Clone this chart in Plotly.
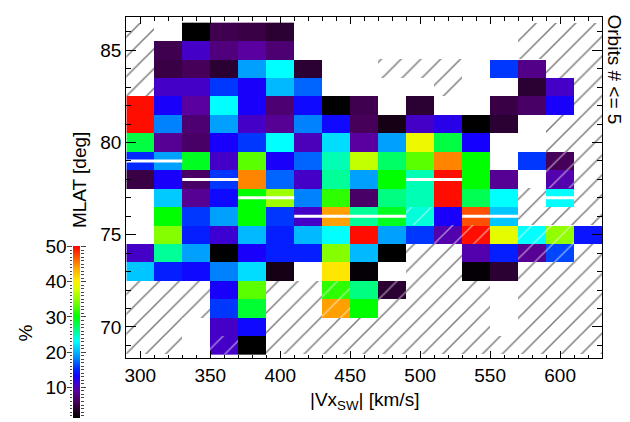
import plotly.graph_objects as go

N = None
# bin centres
vx_centers = [300, 320, 340, 360, 380, 400, 420, 440, 460, 480, 500, 520, 540, 560, 580, 600, 620]
mlat_centers = [86, 85, 84, 83, 82, 81, 80, 79, 78, 77, 76, 75, 74, 73, 72, 71, 70, 69]

# percentage per cell (rows follow mlat_centers, columns follow vx_centers)
pct = [
    [N, N, 1, 5.5, 5, 4, N, N, N, N, N, N, N, N, N, N, N],
    [N, 5.5, 10.5, 7.5, 9, 7, N, N, N, N, N, N, N, N, N, N, N],
    [N, 5, 6, 4, 19, 23, 4, N, N, N, N, N, N, 15.5, 8, N, N],
    [N, 10.5, 10.5, 15.5, 12.8, 20, 17, N, N, N, N, N, N, N, 4, 10.5, N],
    [49.5, 12.8, 9, 23, 12.8, 7, 13.5, 1, 5.5, N, 4, N, N, 5, 6.5, 12.8, N],
    [49.5, 18, 7, 19, 10.5, 8.5, 18, 13.5, 6, 2.5, 10.5, 12, 1, 4, N, N, N],
    [28, 8.5, 6.5, 12.8, 15.5, 23, 10, 21.5, 9, 19, 39, 28, 13, N, N, N, N],
    [15, 19, 29, 10.5, 33, 12.8, 17, 25, 37, 27, 33, 45, 30, N, 15.5, 6, N],
    [5, 12.8, 6.5, 15.5, 45, 17, 10.5, 25.7, 19, 30, 25, 49.5, 30, 8.5, N, 9.5, N],
    [N, 20.7, 8.5, 13.5, 30, 35.5, 18, 31.5, 6.5, 26.3, 25, 49.5, 27.5, 23, N, 23, N],
    [N, 30, 15.5, 19, 30, 15.5, 10.5, 44, 25.7, 29, 24, 12.8, 47, 20.5, N, N, N],
    [N, 34.5, 14.5, 11, 20, 14.5, 20, 23, 49.5, 19, 15.5, 9.5, 49.5, 38.5, 23, 35, 14],
    [10.5, 25.7, 19, 1, 12.8, 14.5, 14.5, 34.5, 20, 0.5, N, N, 9.5, 14.5, 8.5, 16, N],
    [20.5, 14.5, 13.5, 18, 21.5, 2.5, N, 40.5, 1.5, N, N, N, 1.5, 4, N, N, N],
    [N, N, N, 12.8, 33, N, N, 31.5, 26.3, 4, N, N, N, N, N, N, N],
    [N, N, N, 15.5, 28.5, N, N, 44, 30, N, N, N, N, N, N, N, N],
    [N, N, N, 10.5, 13.5, N, N, N, N, N, N, N, N, N, N, N, N],
    [N, N, N, 10.5, 0.5, N, N, N, N, N, N, N, N, N, N, N, N],
]

# 1 = cell with orbits # <= 5 (hatched)
few_orbits = [
    [1, 0, 0, 0, 0, 0, 0, 0, 0, 0, 0, 0, 0, 0, 1, 1, 1],
    [1, 0, 0, 0, 0, 0, 0, 0, 0, 0, 0, 0, 0, 0, 1, 1, 1],
    [1, 0, 0, 0, 0, 0, 0, 0, 0, 1, 1, 1, 0, 0, 0, 1, 1],
    [1, 0, 0, 0, 0, 0, 0, 0, 0, 0, 0, 1, 0, 0, 0, 0, 1],
    [0, 0, 0, 0, 0, 0, 0, 0, 0, 0, 0, 0, 0, 0, 0, 0, 1],
    [0, 0, 0, 0, 0, 0, 0, 0, 0, 0, 0, 0, 0, 0, 0, 1, 1],
    [0, 0, 0, 0, 0, 0, 0, 0, 0, 0, 0, 0, 0, 0, 0, 1, 1],
    [0, 0, 0, 0, 0, 0, 0, 0, 0, 0, 0, 0, 0, 0, 0, 1, 1],
    [0, 0, 0, 0, 0, 0, 0, 0, 0, 0, 0, 0, 0, 0, 0, 1, 1],
    [0, 0, 0, 0, 0, 0, 0, 0, 0, 0, 0, 0, 0, 0, 1, 0, 1],
    [0, 0, 0, 0, 0, 0, 0, 0, 0, 0, 1, 0, 0, 0, 1, 1, 1],
    [0, 0, 0, 0, 0, 0, 0, 0, 0, 0, 0, 1, 1, 0, 1, 1, 0],
    [0, 0, 0, 0, 0, 0, 0, 0, 0, 0, 1, 1, 0, 0, 1, 1, 1],
    [0, 0, 0, 0, 0, 0, 0, 0, 0, 0, 1, 1, 0, 0, 1, 1, 1],
    [1, 1, 1, 0, 0, 1, 1, 1, 0, 1, 1, 1, 1, 0, 1, 1, 1],
    [1, 1, 1, 0, 0, 1, 1, 1, 0, 1, 1, 1, 1, 0, 1, 1, 1],
    [1, 1, 0, 0, 0, 1, 1, 1, 1, 1, 1, 1, 1, 0, 1, 1, 1],
    [1, 1, 0, 1, 0, 1, 1, 1, 1, 1, 1, 1, 1, 1, 1, 1, 1],
]

# white separator segments (MLAT, Vx start, Vx end)
gap_mlat = [79, 78, 77, 76, 78, 76, 77]
gap_vx0 = [290, 330, 370, 410, 490, 530, 590]
gap_vx1 = [330, 370, 410, 490, 530, 570, 610]

cbar_ticks = [10, 20, 30, 40, 50]

ZMIN, ZMAX = 1.2, 50.0
stops = [
    (1.2, (0, 0, 0)), (3, (30, 0, 30)), (6, (70, 0, 90)), (9, (90, 0, 160)),
    (11, (60, 0, 210)), (13, (20, 0, 255)), (15, (0, 40, 255)), (17, (0, 100, 255)),
    (19, (0, 160, 255)), (21, (0, 210, 255)), (23, (0, 255, 255)), (25, (0, 255, 180)),
    (27, (0, 255, 100)), (30, (0, 255, 0)), (34, (120, 255, 0)), (38, (220, 255, 0)),
    (40, (255, 240, 0)), (44, (255, 160, 0)), (47, (255, 80, 0)), (50, (255, 0, 0)),
]
colorscale = [[(v - ZMIN) / (ZMAX - ZMIN), "rgb(%d,%d,%d)" % c] for v, c in stops]

W, H = 630, 422
# pixel geometry of the frames
PX0, PX1, PY0, PY1 = 124.7, 602.0, 7.3, 356.7
CX0, CX1, CY0, CY1 = 71.7, 78.3, 242.3, 418.3

FONT = "Liberation Sans, Arial, Helvetica, sans-serif"

fig = go.Figure()

fig.add_trace(go.Heatmap(
    x=vx_centers, y=mlat_centers, z=pct,
    zmin=ZMIN, zmax=ZMAX, colorscale=colorscale,
    hoverongaps=False,
    colorbar=dict(
        x=CX0 / W, xanchor="left", y=1 - CY1 / H, yanchor="bottom",
        len=(CY1 - CY0) / H, lenmode="fraction",
        thickness=CX1 - CX0, thicknessmode="pixels",
        xpad=0, ypad=0, outlinewidth=0, ticks="", showticklabels=False,
    ),
))

# hatched cells
hx_d, hb_d, hx_e, hb_e = [], [], [], []
for i, lat in enumerate(mlat_centers):
    for j, vx in enumerate(vx_centers):
        if few_orbits[i][j]:
            if pct[i][j] is None:
                hx_e.append(vx); hb_e.append(lat - 0.5)
            else:
                hx_d.append(vx); hb_d.append(lat - 0.5)

for hx, hb, col in [(hx_e, hb_e, "black"), (hx_d, hb_d, "white")]:
    fig.add_trace(go.Bar(
        x=hx, y=[1] * len(hx), base=hb, width=20,
        marker=dict(color="rgba(0,0,0,0)", line=dict(width=0),
                    pattern=dict(shape="/", size=14, solidity=0.11,
                                 fgcolor=col, fillmode="overlay")),
        hoverinfo="skip", showlegend=False,
    ))

gx, gy = [], []
for lat, a, b in zip(gap_mlat, gap_vx0, gap_vx1):
    gx += [a, b, None]
    gy += [lat, lat, None]
fig.add_trace(go.Scatter(x=gx, y=gy, mode="lines",
                         line=dict(color="white", width=3),
                         hoverinfo="skip", showlegend=False))

# placeholder so that the colour-bar axis (x2/y2) is drawn
fig.add_trace(go.Scatter(x=[None], y=[None], xaxis="x2", yaxis="y2",
                         mode="markers", hoverinfo="skip", showlegend=False))

fig.update_layout(
    width=W, height=H, margin=dict(l=0, r=0, t=0, b=0),
    paper_bgcolor="white", plot_bgcolor="white",
    barmode="overlay", bargap=0, showlegend=False,
    font=dict(family=FONT, size=19, color="black"),
    xaxis=dict(
        domain=[PX0 / W, PX1 / W], range=[290, 630], anchor="y",
        tickvals=[300, 350, 400, 450, 500, 550, 600],
        ticks="inside", ticklen=7, tickwidth=1, tickcolor="black",
        ticklabelstandoff=0,
        minor=dict(dtick=10, tick0=0, ticks="inside", ticklen=3.5, tickcolor="black"),
        showline=True, linecolor="black", linewidth=1.2, mirror="allticks",
        showgrid=False, zeroline=False,
    ),
    yaxis=dict(
        domain=[1 - PY1 / H, 1 - PY0 / H], range=[68.3, 86.8], anchor="x",
        tickvals=[70, 75, 80, 85],
        ticks="inside", ticklen=10, tickwidth=1, tickcolor="black",
        minor=dict(dtick=1, tick0=0, ticks="inside", ticklen=5, tickcolor="black"),
        showline=True, linecolor="black", linewidth=1.2, mirror="allticks",
        showgrid=False, zeroline=False,
    ),
    xaxis2=dict(domain=[CX0 / W, CX1 / W], range=[0, 1], anchor="y2",
                visible=False, fixedrange=True),
    yaxis2=dict(
        domain=[1 - CY1 / H, 1 - CY0 / H], range=[ZMIN, ZMAX], anchor="x2",
        tickvals=cbar_ticks, ticks="outside", ticklen=5, tickwidth=1, tickcolor="#444",
        ticklabelstandoff=-3,
        minor=dict(dtick=1, tick0=0, ticks="outside", ticklen=2.5, tickcolor="#444"),
        showline=False, mirror="allticks", showgrid=False, zeroline=False,
        fixedrange=True,
    ),
    annotations=[
        dict(text="|Vx<sub>SW</sub>| [km/s]", x=(PX0 + PX1) / 2 / W, y=1 - 400 / H,
             xref="paper", yref="paper", xanchor="center", yanchor="middle",
             showarrow=False, font=dict(family=FONT, size=19)),
        dict(text="MLAT [deg]", x=78 / W, y=1 - 174.5 / H,
             xref="paper", yref="paper", xanchor="center", yanchor="middle",
             showarrow=False, textangle=-90, font=dict(family=FONT, size=19)),
        dict(text="%", x=23.5 / W, y=1 - 331 / H,
             xref="paper", yref="paper", xanchor="center", yanchor="middle",
             showarrow=False, textangle=-90, font=dict(family=FONT, size=19)),
        dict(text="Orbits # <= 5", x=614 / W, y=1 - 61 / H,
             xref="paper", yref="paper", xanchor="center", yanchor="middle",
             showarrow=False, textangle=90, font=dict(family=FONT, size=19)),
    ],
)

fig.write_html(
    "out.html",
    config={"displayModeBar": False},
    post_script=(
        "document.documentElement.style.margin='0px';"
        "document.body.style.margin='0px';"
        "document.body.style.overflow='hidden';"
        "var gd=document.getElementById('{plot_id}');"
        "gd.style.position='absolute';gd.style.left='0px';gd.style.top='0px';"
    ),
)
